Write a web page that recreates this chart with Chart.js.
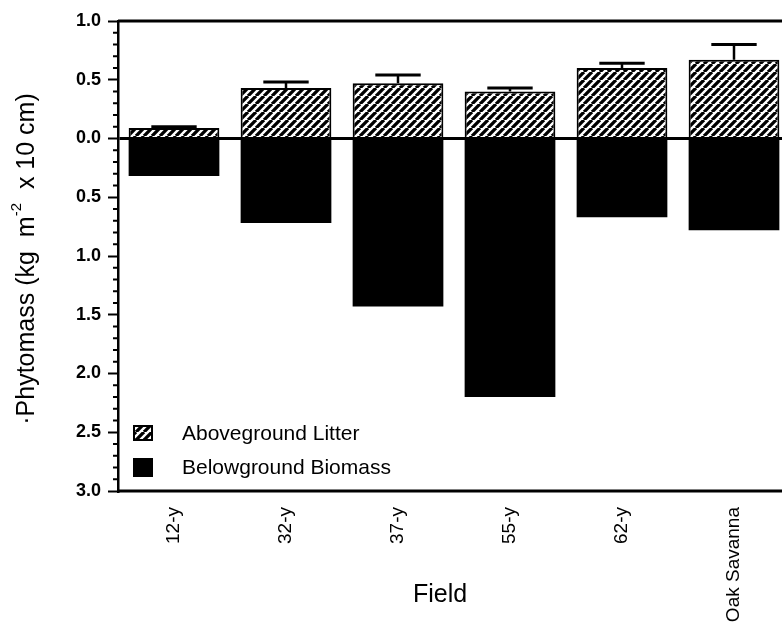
<!DOCTYPE html>
<html>
<head>
<meta charset="utf-8">
<script src="https://cdn.jsdelivr.net/npm/chart.js@4.4.1/dist/chart.umd.min.js"></script>
<style>
  html, body { margin: 0; padding: 0; background: #fff; overflow: hidden; }
  canvas { display: block; }
</style>
</head>
<body>
<canvas id="chart" width="800" height="631"></canvas>
<script>
// values (kg m-2 x 10 cm)
const fields = ['12-y', '32-y', '37-y', '55-y', '62-y', 'Oak Savanna'];
const litter = [0.09, 0.43, 0.47, 0.40, 0.60, 0.67];
const litterTop = [0.10, 0.48, 0.54, 0.43, 0.64, 0.80]; // mean + error
const roots = [0.32, 0.72, 1.43, 2.20, 0.67, 0.78];
const yTicks = [-3, -2.5, -2, -1.5, -1, -0.5, 0, 0.5, 1];

const ink = '#000';

function makeHatch(ctx) {
  const s = 8;
  const c = document.createElement('canvas');
  c.width = s; c.height = s;
  const g = c.getContext('2d');
  g.fillStyle = '#fff';
  g.fillRect(0, 0, s, s);
  g.strokeStyle = ink;
  g.lineWidth = 3.3;
  g.beginPath();
  for (const o of [-s, 0, s]) {
    g.moveTo(o, s);
    g.lineTo(o + s, 0);
  }
  g.stroke();
  return ctx.createPattern(c, 'repeat');
}

const canvas = document.getElementById('chart');
const hatch = makeHatch(canvas.getContext('2d'));

// minor ticks, frame, error bars, legend and axis titles
const extras = {
  id: 'extras',
  afterDatasetsDraw(chart) {
    const { ctx, chartArea: a, scales: { y } } = chart;
    ctx.save();
    ctx.strokeStyle = ink;

    // error bars on the litter bars
    const meta = chart.getDatasetMeta(0);
    meta.data.forEach((bar, i) => {
      const top = y.getPixelForValue(litterTop[i]);
      const half = bar.width / 4;
      ctx.lineWidth = 2.5;
      ctx.beginPath();
      ctx.moveTo(bar.x, bar.y);
      ctx.lineTo(bar.x, top);
      ctx.stroke();
      ctx.lineWidth = 3;
      ctx.beginPath();
      ctx.moveTo(bar.x - half, top);
      ctx.lineTo(bar.x + half, top);
      ctx.stroke();
    });

    // frame: top and bottom
    ctx.lineWidth = 3;
    ctx.beginPath();
    ctx.moveTo(a.left, a.top);
    ctx.lineTo(a.right, a.top);
    ctx.moveTo(a.left, a.bottom);
    ctx.lineTo(a.right, a.bottom);
    ctx.stroke();

    // minor ticks every 0.1
    ctx.lineWidth = 2;
    ctx.beginPath();
    for (let k = -30; k <= 10; k++) {
      if (k % 5 === 0) continue;
      const py = y.getPixelForValue(k / 10);
      ctx.moveTo(a.left - 5, py);
      ctx.lineTo(a.left, py);
    }
    ctx.stroke();
    ctx.restore();
  },
  afterDraw(chart) {
    const { ctx, chartArea: a } = chart;
    const ds = chart.data.datasets;
    ctx.save();

    // legend inside the plot, lower left
    const bx = a.left + 15;
    const tx = a.left + 64;
    ctx.font = '21px "Liberation Sans", Arial, sans-serif';
    ctx.textBaseline = 'middle';

    ctx.fillStyle = hatch;
    ctx.fillRect(bx, a.bottom - 66, 20, 16);
    ctx.strokeStyle = ink;
    ctx.lineWidth = 2;
    ctx.strokeRect(bx + 1, a.bottom - 65, 18, 14);
    ctx.fillStyle = ink;
    ctx.fillText(ds[0].label, tx, a.bottom - 57);

    ctx.fillRect(bx, a.bottom - 33, 20, 19);
    ctx.fillText(ds[1].label, tx, a.bottom - 23);

    // x title
    ctx.font = '25px "Liberation Sans", Arial, sans-serif';
    ctx.textAlign = 'center';
    ctx.textBaseline = 'alphabetic';
    ctx.fillText('Field', (a.left + a.right) / 2 - 14, 602);

    // y title with superscript
    const parts = [
      { t: '\u00b7Phytomass (kg  m', f: '25px "Liberation Sans", Arial, sans-serif', dy: 0 },
      { t: '-2', f: '15px "Liberation Sans", Arial, sans-serif', dy: -10 },
      { t: '  x 10 cm)', f: '25px "Liberation Sans", Arial, sans-serif', dy: 0 }
    ];
    let total = 0;
    parts.forEach(p => { ctx.font = p.f; p.w = ctx.measureText(p.t).width; total += p.w; });
    ctx.translate(27, (a.top + a.bottom) / 2 + 3);
    ctx.rotate(-Math.PI / 2);
    ctx.textAlign = 'left';
    ctx.textBaseline = 'middle';
    let x = -total / 2;
    parts.forEach(p => {
      ctx.font = p.f;
      ctx.fillText(p.t, x, p.dy);
      x += p.w;
    });
    ctx.restore();
  }
};

new Chart(canvas, {
  type: 'bar',
  data: {
    labels: fields,
    datasets: [
      {
        label: 'Aboveground Litter',
        data: litter,
        backgroundColor: hatch,
        borderColor: ink,
        borderWidth: 2,
        borderSkipped: 'bottom',
        barPercentage: 0.81,
        categoryPercentage: 1
      },
      {
        label: 'Belowground Biomass',
        data: roots.map(v => -v),
        backgroundColor: ink,
        borderWidth: 0,
        barPercentage: 0.81,
        categoryPercentage: 1
      }
    ]
  },
  options: {
    responsive: false,
    animation: false,
    devicePixelRatio: 1,
    layout: { padding: { top: 21, right: 10, left: 0, bottom: 0 } },
    plugins: {
      legend: { display: false },
      tooltip: { enabled: false }
    },
    scales: {
      x: {
        stacked: true,
        offset: true,
        grid: { display: false, drawTicks: false },
        border: { display: false },
        ticks: {
          color: ink,
          padding: 16,
          minRotation: 90,
          maxRotation: 90,
          autoSkip: false,
          font: { family: '"Liberation Sans", Arial, sans-serif', size: 19 }
        },
        afterFit(scale) { scale.height = 140; }
      },
      y: {
        stacked: true,
        min: -3,
        max: 1,
        afterBuildTicks(scale) { scale.ticks = yTicks.map(v => ({ value: v })); },
        ticks: {
          color: ink,
          padding: 7,
          callback: v => Math.abs(v).toFixed(1),
          font: { family: '"Liberation Sans", Arial, sans-serif', size: 18, weight: 'bold' }
        },
        grid: {
          color: c => (c.tick && c.tick.value === 0 ? ink : 'rgba(0,0,0,0)'),
          lineWidth: 3,
          drawTicks: true,
          tickLength: 10,
          tickColor: ink,
          tickWidth: 2
        },
        border: { display: true, color: ink, width: 2.5 },
        afterFit(scale) { scale.width = 118; }
      }
    }
  },
  plugins: [extras]
});
</script>
</body>
</html>
